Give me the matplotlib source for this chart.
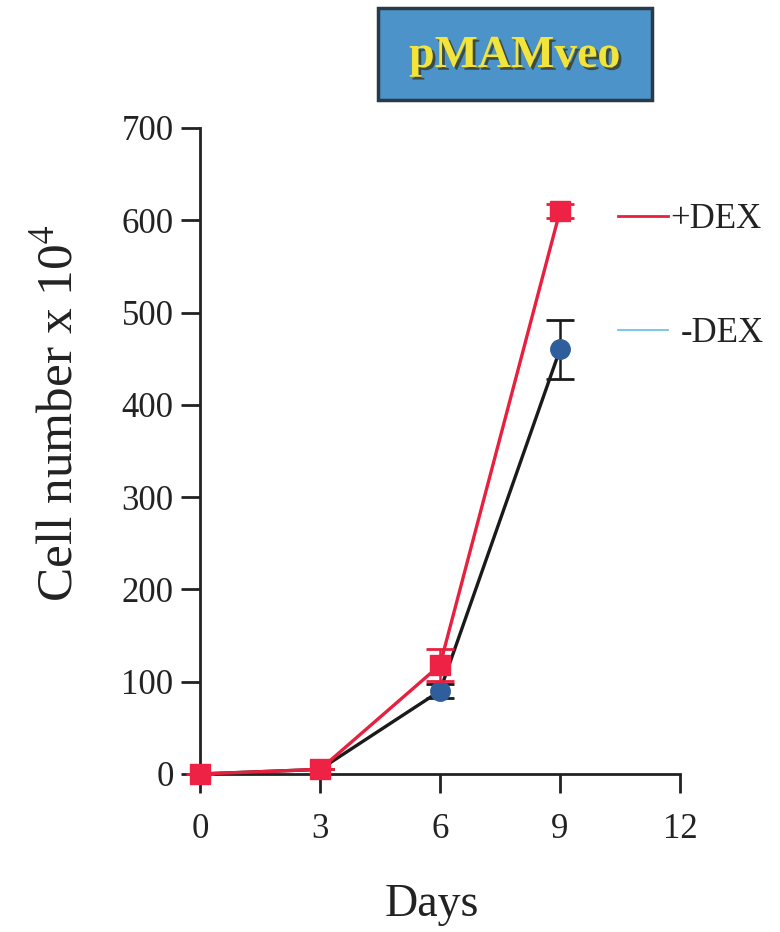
import numpy as np
import matplotlib.pyplot as plt
from matplotlib.lines import Line2D
from matplotlib.patches import Rectangle
import matplotlib.patheffects as pe

plt.rcParams['font.family'] = ['Liberation Serif', 'DejaVu Serif']
plt.rcParams['mathtext.fontset'] = 'stix'

# ===== data =====
days = np.array([0, 3, 6, 9])
plus_dex = np.array([0, 5, 118, 610])
plus_err = np.array([0, 0, 17, 8])
minus_dex = np.array([0, 5, 90, 460])
minus_err = np.array([0, 0, 8, 32])
xticks = [0, 3, 6, 9, 12]
yticks = [0, 100, 200, 300, 400, 500, 600, 700]

W, H = 780, 932
fig = plt.figure(figsize=(W / 100, H / 100), dpi=100)
ax = fig.add_axes([200 / W, 1 - 774 / H, 480 / W, 646 / H])

# -DEX: black line, dark blue circles
ax.errorbar(days, minus_dex, yerr=minus_err, color='#1a1a1a', lw=2.4,
            marker='o', ms=14, mfc='#2f5e9c', mec='#2f5e9c',
            ecolor='#1a1a1a', elinewidth=1.8, capsize=10, capthick=2,
            zorder=3, clip_on=False)
# +DEX: red line, red squares
ax.errorbar(days, plus_dex, yerr=plus_err, color='#e8203f', lw=2.4,
            marker='s', ms=15, mfc='#ee2244', mec='#ee2244',
            ecolor='#e8203f', elinewidth=1.8, capsize=10, capthick=2,
            zorder=4, clip_on=False)

ax.set_xlim(0, 12)
ax.set_ylim(0, 700)
ax.set_xticks(xticks)
ax.set_yticks(yticks)
for s in ['top', 'right']:
    ax.spines[s].set_visible(False)
for s in ['left', 'bottom']:
    ax.spines[s].set_linewidth(2)
    ax.spines[s].set_color('#222222')
ax.tick_params(direction='out', length=14, width=2, colors='#222222',
               labelsize=25)
ax.tick_params(axis='x', pad=14)
ax.tick_params(axis='y', pad=5)

fig.text(432 / W, 1 - 905 / H, 'Days', fontsize=33, ha='center', va='center',
         color='#222222')
fig.text(60 / W, 1 - 413 / H, r'Cell number x 10$^4$', fontsize=37,
         rotation=90, ha='center', va='center', color='#222222')

# legend drawn at the right
fig.add_artist(Line2D([618 / W, 668 / W], [1 - 216 / H, 1 - 216 / H],
                      color='#e8203f', lw=2))
fig.text(670 / W, 1 - 220 / H, '+DEX', fontsize=25, ha='left', va='center',
         color='#222222')
fig.add_artist(Line2D([618 / W, 668 / W], [1 - 330 / H, 1 - 330 / H],
                      color='#6cc4ea', lw=1.3))
fig.text(681 / W, 1 - 334 / H, '-DEX', fontsize=25, ha='left', va='center',
         color='#222222')

# title box
fig.add_artist(Rectangle((378 / W, 1 - 100 / H), 274 / W, 92 / H,
                         facecolor='#4b93c9', edgecolor='#2a3a48', lw=2.5,
                         transform=fig.transFigure))
fig.text(515 / W, 1 - 56 / H, 'pMAMveo', fontsize=33, fontweight='bold',
         ha='center', va='center', color='#f2e43a',
         path_effects=[pe.withSimplePatchShadow(offset=(2, -2),
                                                shadow_rgbFace='#3a3a20',
                                                alpha=0.8)])

plt.savefig('out.png', dpi=100)
